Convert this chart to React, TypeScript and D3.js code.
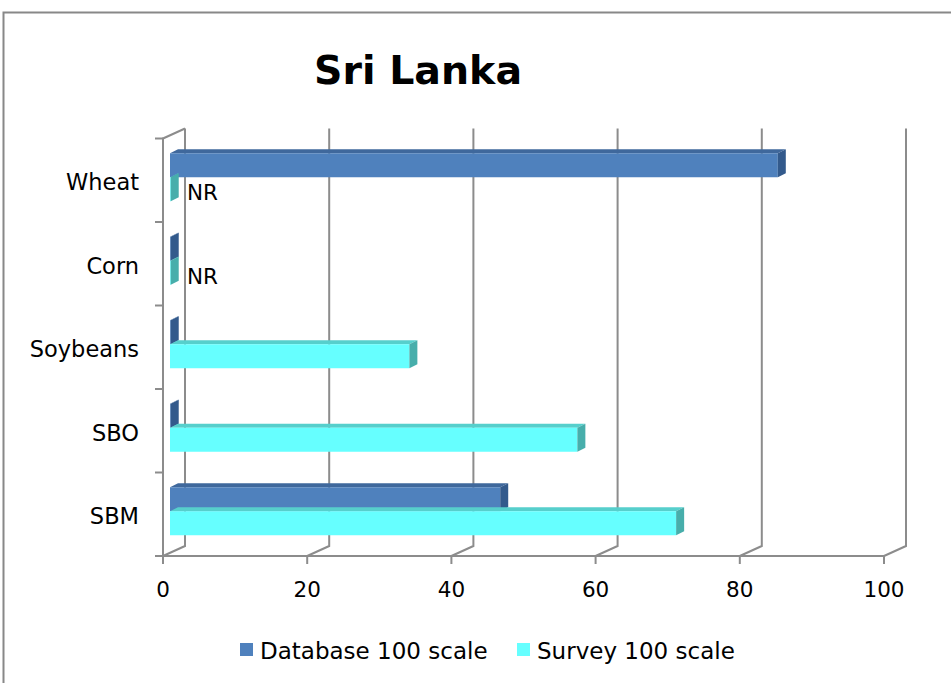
import React, { useEffect, useRef } from "react";
import * as d3 from "d3";

// chart data
const categories = ["Wheat", "Corn", "Soybeans", "SBO", "SBM"];
const databaseValues = [84.3, 0.1, 0.1, 0.1, 45.8];
const surveyValues = [0.1, 0.1, 33.2, 56.5, 70.2];
const surveyNotes = ["NR", "NR", "", "", ""];
const xTicks = [0, 20, 40, 60, 80, 100];
const seriesNames = ["Database 100 scale", "Survey 100 scale"];

const W = 951;
const H = 683;
const FONT = "'DejaVu Sans', sans-serif";

export default function App() {
  const ref = useRef<SVGSVGElement | null>(null);

  useEffect(() => {
    const svg = d3.select(ref.current);
    svg.selectAll("*").remove();

    // 3D-ish offsets: back wall depth and bar depth
    const depthX = 22;
    const depthY = -10;
    const barOffX = 7;
    const barOffY = -3;
    const barDX = 8;
    const barDY = -4;

    const x = d3.scaleLinear().domain([0, 100]).range([163, 884]);
    const y = d3.scaleBand<string>().domain(categories).range([138.5, 556]);
    const sub = d3
      .scaleBand<string>()
      .domain(["db", "sv"])
      .range([0, y.bandwidth()])
      .paddingOuter(0.74)
      .paddingInner(0);

    const gridColor = "#8c8c8c";

    // outer frame
    svg
      .append("rect")
      .attr("x", 3.5)
      .attr("y", 12.5)
      .attr("width", 1000)
      .attr("height", 1000)
      .attr("fill", "none")
      .attr("stroke", "#888")
      .attr("stroke-width", 2);

    // title
    svg
      .append("text")
      .attr("x", 418)
      .attr("y", 84)
      .attr("text-anchor", "middle")
      .attr("font-family", FONT)
      .attr("font-weight", "bold")
      .attr("font-size", 39.5)
      .text("Sri Lanka");

    const grid = svg.append("g").attr("stroke", gridColor).attr("stroke-width", 2).attr("fill", "none");
    const [yTop, yBot] = y.range();

    // back wall verticals + floor diagonals
    xTicks.forEach((t) => {
      const fx = x(t);
      grid
        .append("path")
        .attr("d", `M${fx},${yBot} L${fx + depthX},${yBot + depthY} L${fx + depthX},${yTop + depthY}`);
      grid.append("line").attr("x1", fx).attr("x2", fx).attr("y1", yBot).attr("y2", yBot + 8);
    });
    // front axis lines
    grid.append("line").attr("x1", x(0)).attr("x2", x(100)).attr("y1", yBot).attr("y2", yBot);
    grid
      .append("path")
      .attr("d", `M${x(0)},${yBot} L${x(0)},${yTop} L${x(0) + depthX},${yTop + depthY}`);
    // category ticks
    d3.range(categories.length + 1).forEach((i) => {
      const ty = yTop + i * y.bandwidth();
      grid.append("line").attr("x1", x(0) - 8).attr("x2", x(0)).attr("y1", ty).attr("y2", ty);
    });

    // x tick labels
    svg
      .append("g")
      .selectAll("text")
      .data(xTicks)
      .join("text")
      .attr("x", (d) => x(d))
      .attr("y", 597)
      .attr("text-anchor", "middle")
      .attr("font-family", FONT)
      .attr("font-size", 21.5)
      .text((d) => d);

    // category labels
    svg
      .append("g")
      .selectAll("text")
      .data(categories)
      .join("text")
      .attr("x", 139)
      .attr("y", (d) => y(d)! + y.bandwidth() / 2 + 10)
      .attr("text-anchor", "end")
      .attr("font-family", FONT)
      .attr("font-size", 22.5)
      .text((d) => d);

    const series = [
      { key: "db", values: databaseValues, front: "#4f81bd", top: "#3f689c", side: "#335a8c" },
      { key: "sv", values: surveyValues, front: "#66ffff", top: "#56cfcc", side: "#47aeab" },
    ];

    const bars = svg.append("g");
    series.forEach((s) => {
      categories.forEach((c, i) => {
        const v = s.values[i];
        const x0 = x(0) + barOffX;
        const x1 = x(v) + barOffX;
        const y0 = y(c)! + sub(s.key)! + barOffY;
        const h = sub.bandwidth();
        // top face
        bars
          .append("path")
          .attr("d", `M${x0},${y0} L${x0 + barDX},${y0 + barDY} L${x1 + barDX},${y0 + barDY} L${x1},${y0} Z`)
          .attr("fill", s.top);
        // front face
        bars.append("rect").attr("x", x0).attr("y", y0).attr("width", x1 - x0).attr("height", h).attr("fill", s.front);
        // side face
        bars
          .append("path")
          .attr("d", `M${x1},${y0} L${x1 + barDX},${y0 + barDY} L${x1 + barDX},${y0 + barDY + h} L${x1},${y0 + h} Z`)
          .attr("fill", s.side);
      });
    });

    // NR notes
    svg
      .append("g")
      .selectAll("text")
      .data(categories.filter((_, i) => surveyNotes[i]))
      .join("text")
      .attr("x", 187)
      .attr("y", (d) => y(d)! + sub("sv")! + barOffY + 23)
      .attr("font-family", FONT)
      .attr("font-size", 21.5)
      .text((d) => surveyNotes[categories.indexOf(d)]);

    // legend
    const legendX = [240, 517];
    const legendColors = ["#4f81bd", "#66ffff"];
    seriesNames.forEach((name, i) => {
      svg
        .append("rect")
        .attr("x", legendX[i])
        .attr("y", 643)
        .attr("width", 13)
        .attr("height", 13)
        .attr("fill", legendColors[i]);
      svg
        .append("text")
        .attr("x", legendX[i] + 20)
        .attr("y", 659)
        .attr("font-family", FONT)
        .attr("font-size", 23)
        .text(name);
    });
  }, []);

  return (
    <svg
      ref={ref}
      width={W}
      height={H}
      style={{ position: "absolute", left: 0, top: 0, background: "#fff" }}
    />
  );
}
